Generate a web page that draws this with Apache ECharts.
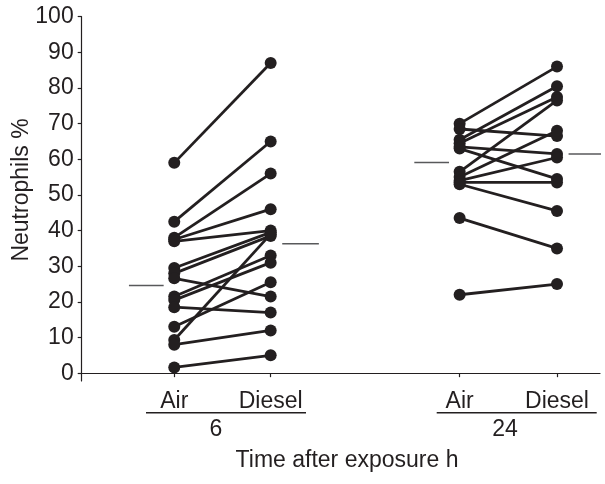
<!DOCTYPE html>
<html>
<head>
<meta charset="utf-8">
<script src="https://cdn.jsdelivr.net/npm/echarts@6/dist/echarts.min.js"></script>
<style>html,body{margin:0;padding:0;background:#fff}#c{width:605px;height:484px}</style>
</head>
<body>
<div id="c"></div>
<script>
// ---- data ----
var groups = ['6', '24'];
var exposures = ['Air', 'Diesel'];
var yTicks = [0, 10, 20, 30, 40, 50, 60, 70, 80, 90, 100];
// 6 h: paired subjects (Air -> Diesel)
var air6    = [59, 42.5, 38, 37.5, 37, 29.5, 28, 26.6, 21.5, 20.5, 18.5, 13, 9.3, 8, 1.6];
var diesel6 = [87, 65,   56, 46,   40, 39.5, 38.5, 21.5, 33, 31,  17,  25.5, 39, 12, 5];
// 24 h: paired subjects (Air -> Diesel)
var air24    = [70, 68.5, 65.5, 64.5, 63.5, 63, 56.5, 55, 54, 53.5, 53, 43.5, 22];
var diesel24 = [86, 66.5, 80.5, 77.5, 61.5, 54.5, 76.5, 68, 60.5, 53.5, 45.5, 35, 25];
// group summary levels (horizontal bars)
var summaryAir    = [24.6, 59.1];
var summaryDiesel = [36.3, 61.5];

// ---- layout ----
var FONT = '"Liberation Sans Narrow", "Liberation Sans", Arial, sans-serif';
var INK = '#231f20';
var xPos = [[1, 2], [3.96, 4.97]];   // axis positions of Air/Diesel for each group
var barAir = [-0.47, -0.11];          // summary bar extent relative to Air position
var barDiesel = [0.12, 0.5];          // relative to Diesel position

var labelMap = {};
xPos.forEach(function (p) { labelMap[String(p[0])] = exposures[0]; labelMap[String(p[1])] = exposures[1]; });
var tickVals = [xPos[0][0], xPos[0][1], xPos[1][0], xPos[1][1]];

var series = [];
function addPairs(a, d, p) {
  for (var i = 0; i < a.length; i++) {
    series.push({
      type: 'line', data: [[p[0], a[i]], [p[1], d[i]]],
      symbol: 'circle', symbolSize: 12, showAllSymbol: true,
      lineStyle: { color: INK, width: 2.8 },
      itemStyle: { color: INK }, emphasis: { disabled: true },
      silent: true, animation: false, z: 3
    });
  }
}
addPairs(air6, diesel6, xPos[0]);
addPairs(air24, diesel24, xPos[1]);
for (var g = 0; g < 2; g++) {
  series.push({
    type: 'line', showSymbol: false, symbol: 'none', silent: true, animation: false, z: 2,
    lineStyle: { color: '#58595b', width: 1.5 },
    data: [[xPos[g][0] + barAir[0], summaryAir[g]], [xPos[g][0] + barAir[1], summaryAir[g]]]
  });
  series.push({
    type: 'line', showSymbol: false, symbol: 'none', silent: true, animation: false, z: 2,
    lineStyle: { color: '#58595b', width: 1.5 },
    data: [[xPos[g][1] + barDiesel[0], summaryDiesel[g]], [xPos[g][1] + barDiesel[1], summaryDiesel[g]]]
  });
}

var chart = echarts.init(document.getElementById('c'), null, { renderer: 'canvas' });
chart.setOption({
  animation: false,
  backgroundColor: '#fff',
  grid: { left: 81.7, right: 5, top: 16.7, bottom: 103 },
  xAxis: {
    type: 'value', min: 0.04, max: 5.416,
    axisLine: { show: true, lineStyle: { color: INK, width: 1.2 } },
    axisTick: { show: true, customValues: tickVals, length: 4, lineStyle: { color: INK, width: 1.2 } },
    axisLabel: { customValues: tickVals, formatter: function (v) { return labelMap[String(v)] || ''; },
      fontFamily: FONT, fontSize: 23, color: INK, margin: 9 },
    splitLine: { show: false }
  },
  yAxis: {
    type: 'value', min: -2.2, max: 100,
    axisLine: { show: true, lineStyle: { color: INK, width: 1.2 } },
    axisTick: { show: true, customValues: yTicks, length: 4, lineStyle: { color: INK, width: 1.2 } },
    axisLabel: { customValues: yTicks, fontFamily: FONT, fontSize: 23, color: INK, margin: 8 },
    splitLine: { show: false }
  },
  graphic: [
    { type: 'line', shape: { x1: 146, y1: 412.7, x2: 306, y2: 412.7 }, style: { stroke: INK, lineWidth: 1.4 } },
    { type: 'line', shape: { x1: 436.7, y1: 412.7, x2: 596.7, y2: 412.7 }, style: { stroke: INK, lineWidth: 1.4 } },
    { type: 'text', x: 216, y: 430, style: { text: groups[0], font: '23px ' + FONT, fill: INK, textAlign: 'center', textVerticalAlign: 'middle' } },
    { type: 'text', x: 505, y: 430, style: { text: groups[1], font: '23px ' + FONT, fill: INK, textAlign: 'center', textVerticalAlign: 'middle' } },
    { type: 'text', x: 347, y: 461, style: { text: 'Time after exposure h', font: '23px ' + FONT, fill: INK, textAlign: 'center', textVerticalAlign: 'middle' } },
    { type: 'text', x: 22, y: 190, rotation: Math.PI / 2, style: { text: 'Neutrophils %', font: '23px ' + FONT, fill: INK, textAlign: 'center', textVerticalAlign: 'middle' } }
  ],
  series: series
});
</script>
</body>
</html>
